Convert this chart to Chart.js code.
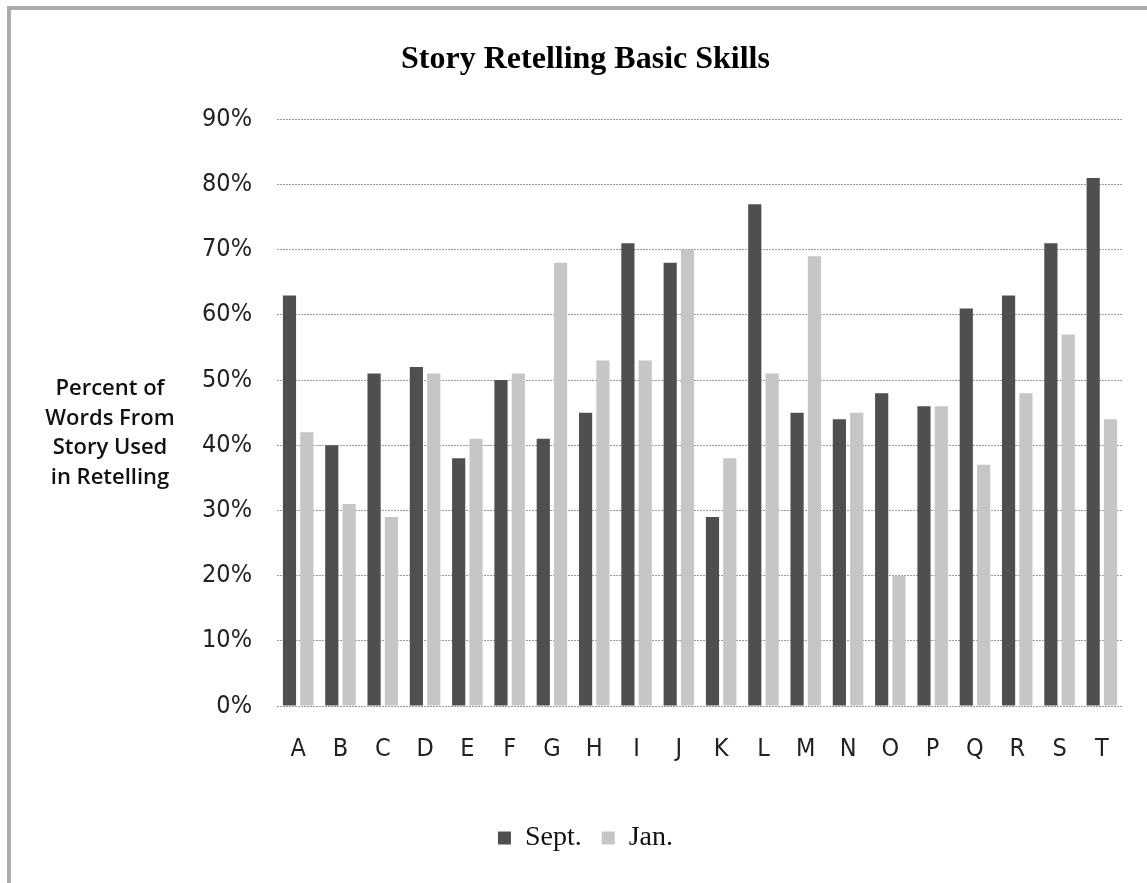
<!DOCTYPE html>
<html>
<head>
<meta charset="utf-8">
<title>Story Retelling Basic Skills</title>
<script src="https://cdn.jsdelivr.net/npm/chart.js@4.4.1/dist/chart.umd.min.js"></script>
<style>
  html, body { margin: 0; padding: 0; background: #fff; }
  #frame {
    position: absolute;
    left: 7px;
    top: 6px;
    width: 1200px;
    height: 1000px;
    border-top: 4px solid #ababab;
    border-left: 4px solid #ababab;
  }
  #myChart { position: absolute; left: 0; top: 0; }
</style>
</head>
<body>
<div id="frame"></div>
<canvas id="myChart" width="1147" height="883"></canvas>
<script>
const students = ["A", "B", "C", "D", "E", "F", "G", "H", "I", "J", "K", "L", "M", "N", "O", "P", "Q", "R", "S", "T"];
const sept = [63, 40, 51, 52, 38, 50, 41, 45, 71, 68, 29, 77, 45, 44, 48, 46, 61, 63, 71, 81];
const jan = [42, 31, 29, 51, 41, 51, 68, 53, 53, 70, 38, 51, 69, 45, 20, 46, 37, 48, 57, 44];
const yTicks = [0, 10, 20, 30, 40, 50, 60, 70, 80, 90];
const yTitleLines = ["Percent of", "Words From", "Story Used", "in Retelling"];

const tickFont = { family: '"DejaVu Sans Condensed", "Liberation Sans Narrow", Roboto, sans-serif', size: 25 };

// horizontal multi-line axis title, like the original
const yTitlePlugin = {
  id: "yTitle",
  afterDraw(chart) {
    const ctx = chart.ctx;
    ctx.save();
    ctx.font = '600 22px "Open Sans"';
    ctx.fillStyle = "#111";
    ctx.textAlign = "center";
    ctx.textBaseline = "middle";
    yTitleLines.forEach((line, i) => {
      ctx.fillText(line, 110, 389 + i * 29.5);
    });
    ctx.restore();
  },
};

const ctx = document.getElementById("myChart").getContext("2d");

const myChart = new Chart(ctx, {
  type: "bar",
  data: {
    labels: students,
    datasets: [
      {
        label: "Sept.",
        data: sept,
        backgroundColor: "#4f4f4f",
        barPercentage: 0.76,
        categoryPercentage: 0.82,
        yAxisID: "y",
      },
      {
        label: "Jan.",
        data: jan,
        backgroundColor: "#c6c6c6",
        barPercentage: 0.76,
        categoryPercentage: 0.82,
        yAxisID: "y",
      },
    ],
  },
  options: {
    responsive: false,
    animation: false,
    devicePixelRatio: 1,
    layout: { padding: { left: 24, right: 0, top: 0, bottom: 21 } },
    plugins: {
      title: {
        display: true,
        text: "Story Retelling Basic Skills",
        color: "#000",
        font: { family: '"Liberation Serif", "DejaVu Serif", serif', size: 32, weight: "bold" },
        padding: { top: 41, bottom: 40 },
      },
      legend: {
        position: "bottom",
        labels: {
          color: "#111",
          font: { family: '"Liberation Serif", serif', size: 28 },
          boxWidth: 13,
          boxHeight: 13,
          padding: 20,
        },
      },
      tooltip: { enabled: false },
    },
    scales: {
      x: {
        grid: { display: false },
        border: { display: false },
        ticks: { color: "#222", font: tickFont, padding: 20 },
        afterFit: (scale) => {
          scale.height = 98;
        },
      },
      y: {
        min: 0,
        max: 90,
        afterBuildTicks: (scale) => {
          scale.ticks = yTicks.map((v) => ({ value: v }));
        },
        grid: { color: "#9a9a9a", lineWidth: 1, drawTicks: false },
        border: { display: false, dash: [2, 1] },
        ticks: {
          color: "#222",
          font: tickFont,
          padding: 25,
          callback: (v) => v + "%",
        },
        afterFit: (scale) => {
          scale.width = 253;
        },
      },
      yRight: {
        position: "right",
        display: true,
        grid: { display: false },
        border: { display: false },
        ticks: { display: false },
        afterFit: (scale) => {
          scale.width = 24;
        },
      },
    },
  },
  plugins: [yTitlePlugin],
});
</script>
</body>
</html>
